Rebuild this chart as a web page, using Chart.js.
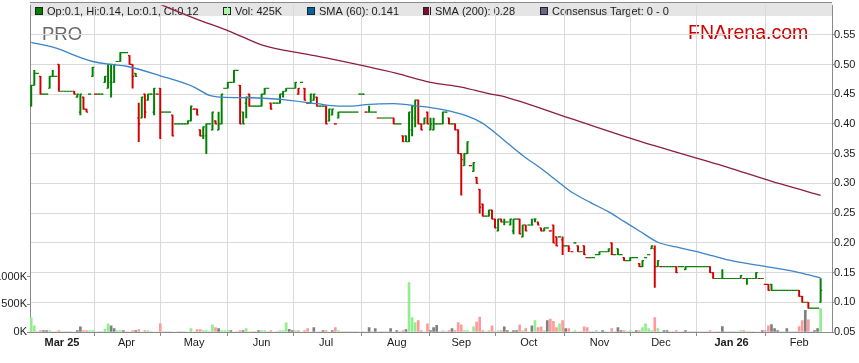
<!DOCTYPE html>
<html><head><meta charset="utf-8">
<script src="https://cdn.jsdelivr.net/npm/chart.js@4.4.1/dist/chart.umd.min.js"></script>
<style>html,body{margin:0;padding:0;background:#fff;overflow:hidden}#wrap{width:859px;height:363px}</style>
</head><body><div id="wrap"><canvas id="c" width="859" height="363"></canvas></div>
<script>
// x = weekday index: 0 = Mon 3 Mar 2025, first bar (-10) = Mon 17 Feb 2025
const firstIndex = -10;
const opens = [0.43,0.465,0.485,0.48,0.45,0.45,0.46,0.48,0.48,0.50,
 0.455,0.455,0.455,0.455,0.455,0.445,0.42,0.445,0.425,0.45,
 0.48,0.45,0.45,0.45,0.47,0.46,0.47,0.47,0.505,0.505,
 0.52,0.52,0.515,0.50,0.485,0.41,0.41,0.45,0.44,0.45,
 0.42,0.45,0.46,0.42,0.42,0.42,0.415,0.40,0.40,0.40,
 0.40,0.40,0.405,0.425,0.425,0.39,0.38,0.38,0.40,0.39,
 0.405,0.39,0.40,0.46,0.46,0.47,0.47,0.49,0.465,0.42,
 0.435,0.45,0.43,0.43,0.43,0.43,0.45,0.46,0.435,0.435,
 0.435,0.435,0.45,0.455,0.46,0.46,0.46,0.45,0.47,0.46,
 0.435,0.435,0.44,0.445,0.43,0.43,0.43,0.405,0.415,0.40,
 0.41,0.42,0.42,0.42,0.42,0.42,0.42,0.45,0.45,0.42,
 0.42,0.42,0.42,0.41,0.41,0.41,0.41,0.41,0.41,0.40,
 0.40,0.38,0.38,0.37,0.39,0.41,0.44,0.40,0.40,0.42,
 0.39,0.39,0.40,0.40,0.40,0.42,0.41,0.40,0.40,0.39,
 0.35,0.33,0.35,0.33,0.32,0.31,0.29,0.265,0.245,0.245,
 0.255,0.24,0.22,0.24,0.235,0.235,0.23,0.22,0.24,0.24,
 0.21,0.23,0.23,0.23,0.24,0.235,0.225,0.22,0.225,0.22,
 0.23,0.21,0.21,0.205,0.195,0.195,0.185,0.20,0.195,0.185,
 0.195,0.175,0.175,0.175,0.18,0.18,0.185,0.185,0.185,0.20,
 0.18,0.19,0.18,0.175,0.17,0.17,0.175,0.175,0.165,0.16,
 0.175,0.18,0.19,0.19,0.16,0.16,0.16,0.16,0.16,0.16,
 0.16,0.16,0.16,0.155,0.16,0.16,0.16,0.16,0.16,0.16,
 0.16,0.16,0.15,0.14,0.14,0.14,0.14,0.14,0.14,0.14,
 0.14,0.14,0.14,0.14,0.14,0.14,0.14,0.14,0.14,0.13,
 0.13,0.13,0.12,0.12,0.12,0.12,0.12,0.12,0.12,0.12,
 0.12,0.11,0.10,0.10,0.09,0.09,0.09,0.10];
const highs = [0.465,0.49,0.485,0.48,0.45,0.45,0.48,0.49,0.48,0.50,
 0.455,0.455,0.455,0.455,0.455,0.45,0.45,0.445,0.425,0.45,
 0.495,0.45,0.45,0.45,0.48,0.50,0.50,0.50,0.505,0.52,
 0.52,0.52,0.515,0.50,0.485,0.435,0.445,0.45,0.45,0.45,
 0.46,0.45,0.46,0.42,0.42,0.42,0.415,0.40,0.40,0.40,
 0.40,0.405,0.43,0.425,0.425,0.39,0.395,0.40,0.40,0.42,
 0.405,0.42,0.45,0.46,0.47,0.47,0.49,0.49,0.465,0.42,
 0.445,0.45,0.43,0.43,0.43,0.45,0.46,0.46,0.435,0.435,
 0.435,0.45,0.455,0.46,0.46,0.46,0.47,0.46,0.47,0.46,
 0.435,0.45,0.45,0.445,0.43,0.43,0.43,0.425,0.425,0.40,
 0.42,0.42,0.42,0.42,0.42,0.42,0.42,0.45,0.45,0.42,
 0.43,0.42,0.42,0.41,0.41,0.41,0.41,0.41,0.41,0.40,
 0.40,0.38,0.38,0.42,0.43,0.44,0.44,0.40,0.41,0.42,
 0.41,0.41,0.40,0.40,0.42,0.42,0.41,0.40,0.40,0.39,
 0.35,0.35,0.37,0.33,0.335,0.31,0.29,0.265,0.245,0.255,
 0.255,0.24,0.24,0.24,0.24,0.235,0.24,0.24,0.24,0.24,
 0.23,0.23,0.23,0.24,0.24,0.235,0.225,0.225,0.225,0.22,
 0.23,0.21,0.21,0.21,0.195,0.195,0.185,0.20,0.195,0.185,
 0.195,0.175,0.175,0.175,0.18,0.185,0.185,0.185,0.19,0.20,
 0.18,0.19,0.18,0.175,0.17,0.175,0.175,0.175,0.165,0.17,
 0.175,0.18,0.195,0.195,0.17,0.16,0.16,0.16,0.16,0.16,
 0.16,0.16,0.16,0.16,0.16,0.16,0.16,0.16,0.16,0.16,
 0.16,0.16,0.15,0.14,0.14,0.155,0.14,0.14,0.14,0.14,
 0.14,0.145,0.14,0.14,0.14,0.14,0.15,0.14,0.14,0.13,
 0.13,0.13,0.12,0.12,0.12,0.12,0.12,0.12,0.12,0.12,
 0.12,0.11,0.10,0.10,0.09,0.09,0.09,0.14];
const lows = [0.43,0.465,0.485,0.45,0.45,0.45,0.46,0.48,0.48,0.455,
 0.455,0.455,0.455,0.455,0.45,0.445,0.415,0.425,0.42,0.45,
 0.48,0.45,0.45,0.45,0.47,0.46,0.445,0.47,0.505,0.505,
 0.52,0.52,0.50,0.46,0.48,0.37,0.41,0.41,0.44,0.45,
 0.415,0.45,0.375,0.42,0.42,0.42,0.38,0.40,0.40,0.40,
 0.40,0.40,0.405,0.425,0.415,0.38,0.375,0.35,0.40,0.39,
 0.40,0.39,0.40,0.46,0.46,0.47,0.47,0.49,0.40,0.40,
 0.41,0.43,0.43,0.43,0.43,0.43,0.45,0.46,0.425,0.435,
 0.435,0.435,0.445,0.455,0.46,0.46,0.46,0.45,0.47,0.44,
 0.435,0.435,0.44,0.43,0.43,0.43,0.40,0.405,0.415,0.40,
 0.41,0.42,0.42,0.42,0.42,0.42,0.42,0.45,0.45,0.42,
 0.42,0.42,0.42,0.41,0.41,0.41,0.41,0.41,0.40,0.40,
 0.40,0.37,0.37,0.37,0.38,0.395,0.40,0.39,0.40,0.40,
 0.39,0.39,0.40,0.40,0.40,0.42,0.40,0.40,0.39,0.35,
 0.28,0.33,0.35,0.33,0.32,0.30,0.25,0.245,0.245,0.245,
 0.24,0.225,0.22,0.235,0.23,0.235,0.23,0.215,0.24,0.215,
 0.21,0.22,0.23,0.23,0.235,0.23,0.22,0.22,0.225,0.22,
 0.20,0.195,0.21,0.18,0.195,0.185,0.185,0.20,0.185,0.185,
 0.18,0.175,0.175,0.175,0.18,0.18,0.185,0.185,0.185,0.18,
 0.18,0.18,0.18,0.17,0.17,0.17,0.175,0.175,0.16,0.16,
 0.175,0.18,0.19,0.125,0.16,0.16,0.16,0.16,0.16,0.16,
 0.15,0.16,0.16,0.155,0.16,0.16,0.16,0.16,0.16,0.16,
 0.16,0.15,0.14,0.14,0.14,0.14,0.14,0.14,0.14,0.14,
 0.14,0.14,0.14,0.13,0.14,0.14,0.14,0.14,0.14,0.13,
 0.12,0.12,0.12,0.12,0.12,0.12,0.12,0.12,0.12,0.12,
 0.11,0.10,0.10,0.09,0.09,0.09,0.09,0.10];
const closes = [0.465,0.485,0.485,0.45,0.45,0.45,0.48,0.48,0.48,0.455,
 0.455,0.455,0.455,0.455,0.45,0.45,0.45,0.425,0.42,0.45,
 0.495,0.45,0.45,0.45,0.48,0.50,0.50,0.50,0.505,0.52,
 0.52,0.52,0.50,0.48,0.48,0.40,0.445,0.42,0.45,0.45,
 0.46,0.45,0.42,0.42,0.42,0.42,0.38,0.40,0.40,0.40,
 0.40,0.405,0.43,0.425,0.415,0.38,0.395,0.40,0.40,0.42,
 0.40,0.40,0.45,0.46,0.47,0.47,0.49,0.49,0.40,0.40,
 0.445,0.43,0.43,0.43,0.43,0.45,0.46,0.46,0.425,0.435,
 0.435,0.45,0.455,0.46,0.46,0.46,0.47,0.46,0.47,0.44,
 0.435,0.45,0.45,0.43,0.43,0.43,0.40,0.425,0.425,0.40,
 0.42,0.42,0.42,0.42,0.42,0.42,0.42,0.45,0.45,0.42,
 0.42,0.42,0.42,0.41,0.41,0.41,0.41,0.41,0.40,0.40,
 0.40,0.37,0.37,0.42,0.43,0.44,0.40,0.39,0.41,0.40,
 0.40,0.40,0.40,0.40,0.42,0.42,0.40,0.40,0.39,0.35,
 0.34,0.35,0.37,0.33,0.335,0.30,0.26,0.245,0.245,0.255,
 0.24,0.225,0.24,0.235,0.235,0.235,0.24,0.24,0.24,0.215,
 0.23,0.22,0.23,0.23,0.24,0.23,0.22,0.225,0.225,0.22,
 0.20,0.195,0.21,0.195,0.195,0.19,0.185,0.20,0.185,0.185,
 0.18,0.175,0.175,0.175,0.18,0.185,0.185,0.185,0.19,0.18,
 0.18,0.18,0.18,0.17,0.17,0.175,0.175,0.175,0.16,0.17,
 0.175,0.18,0.195,0.16,0.17,0.16,0.16,0.16,0.16,0.16,
 0.15,0.16,0.16,0.16,0.16,0.16,0.16,0.16,0.16,0.16,
 0.16,0.15,0.14,0.14,0.14,0.14,0.14,0.14,0.14,0.14,
 0.14,0.145,0.14,0.14,0.14,0.14,0.15,0.14,0.14,0.13,
 0.12,0.12,0.12,0.12,0.12,0.12,0.12,0.12,0.12,0.12,
 0.11,0.10,0.10,0.09,0.09,0.09,0.09,0.12];
const volumesK = [260,110,0,25,25,25,25,0,0,25,
 0,0,0,0,0,25,95,25,25,25,
 25,0,0,0,50,150,110,60,25,25,
 25,0,0,25,25,45,0,25,25,0,
 0,0,150,0,0,0,0,0,0,0,
 0,0,60,0,45,45,25,25,0,130,
 80,60,25,25,25,25,0,0,25,25,
 60,0,0,0,25,25,25,0,25,0,
 0,25,25,165,50,25,25,25,0,25,
 60,0,80,0,0,25,25,0,25,80,
 25,0,0,0,0,0,0,0,0,0,
 80,0,60,0,0,0,0,60,0,25,
 0,25,45,895,260,170,205,25,0,150,
 25,80,120,0,25,0,25,60,25,170,
 130,25,25,0,95,180,270,25,0,25,
 110,0,25,25,95,25,0,25,25,130,
 25,60,0,110,205,80,95,25,205,235,
 195,80,150,205,60,60,0,25,0,0,
 95,80,0,0,25,0,25,0,0,60,
 0,80,25,25,0,25,0,25,25,80,
 150,60,25,260,60,0,25,25,0,0,
 25,0,0,25,0,0,0,0,0,0,
 0,25,0,0,0,100,0,0,0,0,
 0,25,25,0,0,0,0,0,25,25,
 110,135,60,25,0,0,60,0,0,0,
 100,205,395,220,0,25,60,425];
const sma60Index  = [-10,-3,10,16,21,32,43,48,52,61,72,83,90,94,100,108,116,124,132,137,141,145,150,156,161,166,172,178,183,188,194,200,206,212,218,227,240,247];
const sma60Values = [0.537,0.529,0.505,0.50,0.497,0.481,0.462,0.448,0.445,0.444,0.441,0.434,0.430,0.430,0.433,0.434,0.430,0.424,0.413,0.401,0.385,0.368,0.347,0.325,0.305,0.285,0.268,0.252,0.236,0.22,0.201,0.193,0.186,0.178,0.17,0.162,0.15,0.141];
const sma200Index  = [28,33,43,55,65,80,86,109,120,130,139,143,165,188,218,234,247];
const sma200Values = [0.611,0.599,0.578,0.555,0.533,0.517,0.511,0.485,0.47,0.462,0.451,0.447,0.41,0.371,0.325,0.299,0.28];
const monthTickIndex  = [0,21,43,65,86,109,130,152,175,195,218,240];
const monthTickLabels = ['Mar 25','Apr','May','Jun','Jul','Aug','Sep','Oct','Nov','Dec','Jan 26','Feb'];
const priceTicks = [0.05,0.10,0.15,0.20,0.25,0.30,0.35,0.40,0.45,0.50,0.55];
const volumeTicksK = [0,500,1000];
const tickerCode = 'PRO';
const siteName = 'FNArena.com';
const consensusLow = 0, consensusHigh = 0;

const FONT = 'Arial, "Liberation Sans", sans-serif';
const GREEN = '#008000', RED = '#d40000';
const idx = opens.map((_, k) => firstIndex + k);
const prevClose = k => k > 0 ? closes[k - 1] : opens[k];
const priceColors = closes.map((c, k) => c >= prevClose(k) ? GREEN : RED);
const volColors = closes.map((c, k) => c > prevClose(k) ? '#90ee90' : (c < prevClose(k) ? '#ff9a9a' : '#7f7f7f'));
const labelFor = v => { const j = monthTickIndex.indexOf(v); return j < 0 ? '' : monthTickLabels[j]; };
const last = opens.length - 1;

const legendItems = [
  {x: 35,  color: GREEN,     text: `Op:${opens[last]}, Hi:${highs[last]}, Lo:${lows[last]}, Cl:${closes[last]}`},
  {x: 223, color: '#99ff99', text: `Vol: ${volumesK[last]}K`},
  {x: 307, color: '#0064a8', text: `SMA (60): ${sma60Values[sma60Values.length-1]}`},
  {x: 423, color: '#7c0c30', text: `SMA (200): ${sma200Values[sma200Values.length-1]}`},
  {x: 540, color: '#66668f', text: `Consensus Target: ${consensusLow} - ${consensusHigh}`}
];

const decor = {
  id: 'decor',
  beforeDraw(chart) {
    const {ctx, chartArea: a} = chart;
    ctx.save();
    ctx.fillStyle = '#e5e5e5';
    ctx.fillRect(a.left, 3, a.right - a.left, 13);
    ctx.strokeStyle = '#8a8a8a'; ctx.lineWidth = 1;
    ctx.beginPath(); ctx.moveTo(a.left, 2.5); ctx.lineTo(a.right, 2.5); ctx.stroke();
    ctx.font = '11px ' + FONT; ctx.textBaseline = 'alphabetic'; ctx.textAlign = 'left';
    legendItems.forEach(it => {
      ctx.fillStyle = it.color; ctx.fillRect(it.x, 7, 8, 8);
      ctx.strokeStyle = '#222'; ctx.strokeRect(it.x + 0.5, 7.5, 7, 7);
      ctx.fillStyle = '#1a1a1a'; ctx.fillText(it.text, it.x + 12, 14.5);
    });
    ctx.font = '18.5px ' + FONT; ctx.fillStyle = '#6a6a6a';
    ctx.fillText(tickerCode, 42, 40);
    ctx.font = '19.5px ' + FONT; ctx.fillStyle = '#d00000';
    ctx.fillText(siteName, 688, 39);
    ctx.restore();
  }
};

new Chart(document.getElementById('c'), {
  type: 'bar',
  data: {
    datasets: [
      {type: 'line', label: 'SMA (60)', data: sma60Index.map((x, k) => ({x, y: sma60Values[k]})), yAxisID: 'y',
       borderColor: '#3a84c8', borderWidth: 1.3, pointRadius: 0, cubicInterpolationMode: 'monotone', order: 0},
      {type: 'line', label: 'SMA (200)', data: sma200Index.map((x, k) => ({x, y: sma200Values[k]})), yAxisID: 'y',
       borderColor: '#8c1e46', borderWidth: 1.3, pointRadius: 0, cubicInterpolationMode: 'monotone', order: 0},
      {type: 'line', label: 'Open', data: idx.map((x, k) => ({x: x - 0.25, y: opens[k]})), yAxisID: 'y',
       showLine: false, pointStyle: 'line', pointRadius: 0.8, pointBorderWidth: 1.2, pointBorderColor: priceColors, order: 2},
      {type: 'line', label: 'Close', data: idx.map((x, k) => ({x: x + 0.25, y: closes[k]})), yAxisID: 'y',
       showLine: false, pointStyle: 'line', pointRadius: 0.8, pointBorderWidth: 1.2, pointBorderColor: priceColors, order: 2},
      {type: 'bar', label: 'High-Low', data: idx.map((x, k) => ({x, y: [lows[k], highs[k]]})), yAxisID: 'y',
       backgroundColor: priceColors, barThickness: 1.3, grouped: false, order: 3},
      {type: 'bar', label: 'Vol', data: idx.map((x, k) => ({x, y: volumesK[k]})), yAxisID: 'yv',
       backgroundColor: volColors, barThickness: 2, grouped: false, order: 6}
    ]
  },
  options: {
    responsive: false, animation: false, devicePixelRatio: 1,
    layout: {padding: 0},
    plugins: {legend: {display: false}, tooltip: {enabled: false}},
    events: [],
    scales: {
      x: {type: 'linear', position: 'bottom', min: -10.4, max: 250.7, offset: false,
        afterBuildTicks: s => { s.ticks = monthTickIndex.map(v => ({value: v})); },
        afterFit: s => { s.height = 31; s.paddingLeft = 0; s.paddingRight = 0; },
        grid: {color: '#dadada', tickLength: 4, tickColor: '#8a8a8a'},
        border: {display: true, color: '#8a8a8a'},
        ticks: {autoSkip: false, maxRotation: 0, minRotation: 0, padding: 0, color: '#1a1a1a',
          font: c => ({family: FONT, size: 11, weight: (c.tick && /\d/.test(labelFor(c.tick.value))) ? 'bold' : 'normal'}),
          callback: v => labelFor(v)}
      },
      y: {type: 'linear', position: 'right', min: 0.05, max: 0.5997,
        afterBuildTicks: s => { s.ticks = priceTicks.map(v => ({value: v})); },
        afterFit: s => { s.width = 27; s.paddingTop = 0; s.paddingBottom = 0; },
        grid: {color: '#dadada', tickLength: 2, tickColor: '#8a8a8a'},
        border: {display: true, color: '#8a8a8a'},
        ticks: {padding: 0, color: '#1a1a1a', font: {family: FONT, size: 11}, callback: v => v.toFixed(2)}
      },
      yv: {type: 'linear', position: 'left', min: 0, max: 5930,
        afterBuildTicks: s => { s.ticks = volumeTicksK.map(v => ({value: v})); },
        afterFit: s => { s.width = 30; s.paddingTop = 0; s.paddingBottom = 0; },
        grid: {drawOnChartArea: false, tickLength: 3, tickColor: '#8a8a8a'},
        border: {display: true, color: '#8a8a8a'},
        ticks: {padding: 0, color: '#1a1a1a', font: {family: FONT, size: 11}, callback: v => v + 'K'}
      }
    }
  },
  plugins: [decor]
});
</script>
</body></html>
